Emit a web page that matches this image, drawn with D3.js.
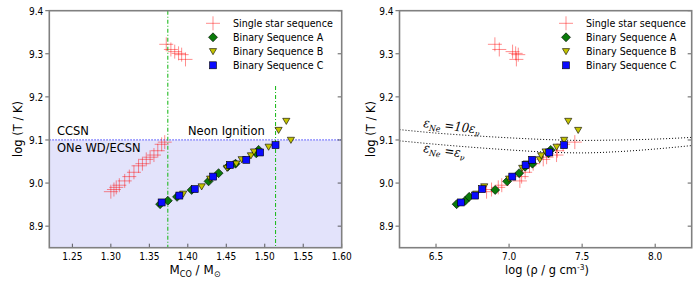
<!DOCTYPE html>
<html><head><meta charset="utf-8">
<script src="https://cdn.jsdelivr.net/npm/d3@7"></script>
<style>body{margin:0;background:#fff}svg{display:block;font-family:"DejaVu Sans",sans-serif}</style>
</head><body>
<svg id="c" width="699" height="293"></svg>
<script>
// ---- data ----
const singleM   = [1.300,1.304,1.307,1.311,1.318,1.324,1.330,1.336,1.341,1.346,1.351,1.356,1.361,1.366,1.370, 1.372,1.378,1.383,1.388,1.392,1.397];
const singleRho = [6.846,6.880,6.926,6.950,7.074,7.086,7.110,7.140,7.165,7.234,7.257,7.325,7.330,7.370,7.450, 6.903,6.933,7.024,7.045,7.063,7.050];
const singleT   = [8.980,8.985,8.990,8.995,9.005,9.015,9.025,9.040,9.045,9.055,9.060,9.065,9.075,9.090,9.095, 9.322,9.310,9.305,9.301,9.298,9.287];
const seqA_M   = [1.364,1.374,1.386,1.405,1.427,1.440,1.452,1.462,1.489,1.492];
const seqA_rho = [6.641,6.700,6.727,6.905,6.987,7.069,7.110,7.160,7.270,7.285];
const seqA_T   = [8.951,8.959,8.968,8.984,9.004,9.023,9.038,9.045,9.069,9.077];
const seqB_M   = [1.394,1.418,1.429,1.451,1.463,1.470,1.482,1.486,1.505,1.518,1.528,1.534];
const seqB_rho = [6.775,6.830,7.000,7.090,7.120,7.210,7.220,7.250,7.325,7.473,7.405,7.377];
const seqB_T   = [8.975,8.992,9.010,9.035,9.045,9.055,9.064,9.073,9.084,9.123,9.144,9.100];
const seqC_M   = [1.366,1.389,1.409,1.433,1.455,1.476,1.494,1.514];
const seqC_rho = [6.670,6.768,6.816,7.022,7.113,7.158,7.275,7.377];
const seqC_T   = [8.955,8.971,8.986,9.015,9.042,9.054,9.071,9.088];
const curve10Rho = [6.25,6.5,6.75,7.0,7.25,7.5,7.75,8.0,8.25];
const curve10T   = [9.124,9.116,9.110,9.105,9.101,9.099,9.100,9.102,9.106];
const curve1Rho  = [6.25,6.5,6.75,7.0,7.25,7.5,7.75,8.0,8.25];
const curve1T    = [9.098,9.090,9.083,9.077,9.072,9.070,9.073,9.079,9.087];
const xTicksM   = [1.25,1.30,1.35,1.40,1.45,1.50,1.55,1.60];
const xTicksRho = [6.5,7.0,7.5,8.0];
const yTicks    = [8.9,9.0,9.1,9.2,9.3,9.4];
const legendLabels = ["Single star sequence","Binary Sequence A","Binary Sequence B","Binary Sequence C"];
const boundaryT = 9.1;
const vlinesM = [1.374,1.514];
const vline2StartT = 9.225;

const svg = d3.select("#c");
const y = d3.scaleLinear().domain([8.85,9.4]).range([247.7,10.7]);
const xL = d3.scaleLinear().domain([1.22,1.60]).range([49.3,341.7]);
const xR = d3.scaleLinear().domain([6.25,8.25]).range([399.5,691.7]);

const colA="#0a7a0a", colB="#c4c400", colC="#0a0aff";

function txt(g, x, yy, size, sx, anchor){
  return g.append("g").attr("transform",`translate(${x},${yy}) scale(${sx},1)`)
    .append("text").attr("x",0).attr("y",0).attr("font-size",size).attr("text-anchor",anchor||"start").attr("fill","#000");
}

function plus(g,cx,cy){
  const s=7;
  g.append("path").attr("d",`M${cx-s},${cy}H${cx+s}M${cx},${cy-s}V${cy+s}`)
   .attr("stroke","#ff0000").attr("stroke-opacity",0.45).attr("stroke-width",1).attr("fill","none");
}
function diamond(g,cx,cy){
  const s=4.5;
  g.append("path").attr("d",`M${cx},${cy-s}L${cx+s},${cy}L${cx},${cy+s}L${cx-s},${cy}Z`)
   .attr("fill",colA).attr("stroke","#000").attr("stroke-width",0.6);
}
function tri(g,cx,cy){
  const s=3.6;
  g.append("path").attr("d",`M${cx-s},${cy-s*0.75}L${cx+s},${cy-s*0.75}L${cx},${cy+s*0.95}Z`)
   .attr("fill",colB).attr("stroke","#000").attr("stroke-width",0.6);
}
function square(g,cx,cy){
  const s=3.5;
  g.append("rect").attr("x",cx-s).attr("y",cy-s).attr("width",2*s).attr("height",2*s)
   .attr("fill",colC).attr("stroke","#000").attr("stroke-width",0.6);
}

function panel(x){
  const g = svg.append("g");
  const [x0,x1]=x.range(), y0=y.range()[0], y1=y.range()[1];
  const clipId = "clip"+Math.round(x0);
  svg.append("clipPath").attr("id",clipId).append("rect").attr("x",x0).attr("y",y1).attr("width",x1-x0).attr("height",y0-y1);
  const inner = g.append("g").attr("clip-path",`url(#${clipId})`);
  return {g, inner, x0,x1,y0,y1};
}

function axes(p, x, xTicks, fmt){
  const g=p.g;
  xTicks.forEach(t=>{
    const px=x(t);
    g.append("line").attr("x1",px).attr("x2",px).attr("y1",p.y0).attr("y2",p.y0-4).attr("stroke","#333").attr("stroke-width",0.8);
    txt(g,px,p.y0+12.5,10.5,0.86,"middle").text(fmt(t));
  });
  yTicks.forEach(t=>{
    const py=y(t);
    g.append("line").attr("x1",p.x0-4).attr("x2",p.x0).attr("y1",py).attr("y2",py).attr("stroke","#333").attr("stroke-width",0.8);
    g.append("line").attr("x1",p.x1-4).attr("x2",p.x1).attr("y1",py).attr("y2",py).attr("stroke","#333").attr("stroke-width",0.8);
    txt(g,p.x0-6,py+4,10.5,0.86,"end").text(d3.format(".1f")(t));
  });
  g.append("rect").attr("x",p.x0).attr("y",p.y1).attr("width",p.x1-p.x0).attr("height",p.y0-p.y1)
   .attr("fill","none").attr("stroke","#808080").attr("stroke-width",1.6);
}

function legend(g, lx){
  const rows=[23.3,37.3,51.3,65.3];
  plus(g,lx,rows[0]); diamond(g,lx,rows[1]); tri(g,lx,rows[2]); square(g,lx,rows[3]);
  legendLabels.forEach((t,i)=>{
    txt(g,lx+20,rows[i]+4,10.5,0.91).text(t);
  });
}

// ---- left panel ----
const L = panel(xL);
L.inner.append("rect").attr("x",L.x0).attr("y",y(boundaryT)).attr("width",L.x1-L.x0).attr("height",L.y0-y(boundaryT)).attr("fill","#e3e3fb");
L.inner.append("line").attr("x1",L.x0).attr("x2",L.x1).attr("y1",y(boundaryT)).attr("y2",y(boundaryT))
  .attr("stroke","#6060ff").attr("stroke-width",1.2).attr("stroke-dasharray","1.5,1.5");
vlinesM.forEach((m,i)=>{
  L.inner.append("line").attr("x1",xL(m)).attr("x2",xL(m)).attr("y1",i===0?L.y1:y(vline2StartT)).attr("y2",L.y0)
    .attr("stroke","#22bb22").attr("stroke-width",1.1).attr("stroke-dasharray","4,2,1,2");
});
txt(L.g,57,134.5,11.5,1).text("CCSN");
txt(L.g,57,151.5,11.5,1).text("ONe WD/ECSN");
txt(L.g,188,134.5,11.5,1).text("Neon Ignition");
singleM.forEach((m,i)=>plus(L.inner,xL(m),y(singleT[i])));
seqA_M.forEach((m,i)=>diamond(L.inner,xL(m),y(seqA_T[i])));
seqB_M.forEach((m,i)=>tri(L.inner,xL(m),y(seqB_T[i])));
seqC_M.forEach((m,i)=>square(L.inner,xL(m),y(seqC_T[i])));
axes(L, xL, xTicksM, d3.format(".2f"));
legend(L.g, 213);
svg.append("text").attr("transform","translate(22,129) rotate(-90)").attr("text-anchor","middle").attr("font-size",11.5).text("log (T / K)");
const xl = txt(svg,195,274,12.5,0.95,"middle");
xl.append("tspan").text("M");
xl.append("tspan").attr("font-size",8.5).attr("dy",3).text("CO");
xl.append("tspan").attr("dy",-3).text(" / M");
xl.append("tspan").attr("font-size",8.5).attr("dy",3).text("\u2299");

// ---- right panel ----
const R = panel(xR);
const line = d3.line().x(d=>xR(d[0])).y(d=>y(d[1])).curve(d3.curveMonotoneX);
R.inner.append("path").attr("d",line(curve10Rho.map((r,i)=>[r,curve10T[i]]))).attr("fill","none").attr("stroke","#000").attr("stroke-width",1).attr("stroke-dasharray","1,2");
R.inner.append("path").attr("d",line(curve1Rho.map((r,i)=>[r,curve1T[i]]))).attr("fill","none").attr("stroke","#000").attr("stroke-width",1).attr("stroke-dasharray","1,2");
function epsLabel(x0,y0,rot,mid){
  const t = R.g.append("g").attr("transform",`translate(${x0},${y0}) rotate(${rot}) scale(0.9,1)`)
    .append("text").attr("font-size",13).attr("font-family","'DejaVu Serif',serif").attr("font-style","italic");
  t.append("tspan").text("\u03b5");
  t.append("tspan").attr("font-size",8.5).attr("dy",3).text("Ne");
  t.append("tspan").attr("dy",-3).text(mid);
  t.append("tspan").attr("font-size",8.5).attr("dy",3).text("\u03bd");
}
epsLabel(423,127,7," =10\u03b5");
epsLabel(423,152,8," =\u03b5");
singleRho.forEach((r,i)=>plus(R.inner,xR(r),y(singleT[i])));
seqA_rho.forEach((r,i)=>diamond(R.inner,xR(r),y(seqA_T[i])));
seqB_rho.forEach((r,i)=>tri(R.inner,xR(r),y(seqB_T[i])));
seqC_rho.forEach((r,i)=>square(R.inner,xR(r),y(seqC_T[i])));
axes(R, xR, xTicksRho, d3.format(".1f"));
legend(R.g, 566);
svg.append("text").attr("transform","translate(375,129) rotate(-90)").attr("text-anchor","middle").attr("font-size",11.5).text("log (T / K)");
const xr = txt(svg,547,274,12,0.95,"middle");
xr.append("tspan").text("log (\u03c1 / g cm");
xr.append("tspan").attr("font-size",8).attr("dy",-4).text("-3");
xr.append("tspan").attr("dy",4).text(")");
</script>
</body></html>
